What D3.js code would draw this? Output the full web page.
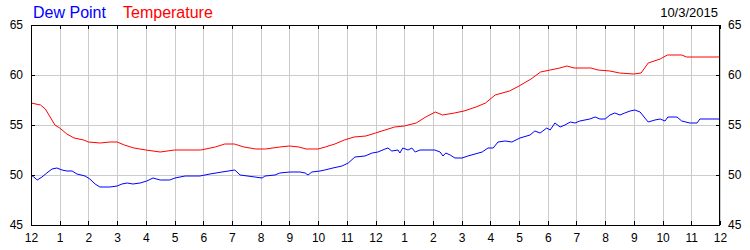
<!DOCTYPE html>
<html>
<head>
<meta charset="utf-8">
<script src="https://cdn.jsdelivr.net/npm/d3@7"></script>
<style>
  body { margin: 0; background: #fff; }
  text { font-family: "Liberation Sans", Arial, sans-serif; }
  .grid line { stroke: #cccccc; shape-rendering: crispEdges; }
  .grid path { display: none; }
  .tk path { display: none; }
  .tk line { stroke: #000; shape-rendering: crispEdges; }
  .tk text { font-size: 12px; fill: #000; }
</style>
</head>
<body>
<div class="g-chart"></div>
<script>
//Chart texts
var dewLabel = "Dew Point";
var tempLabel = "Temperature";
var dateText = "10/3/2015";

//Tick values
var hourTicks = [0, 60, 120, 180, 240, 300, 360, 420, 480, 540, 600, 660, 720,
                 780, 840, 900, 960, 1020, 1080, 1140, 1200, 1260, 1320, 1380, 1440];
var tempTicks = [45, 50, 55, 60, 65];

//Temperature readings (minutes after midnight, degrees)
var tempMinutes = [0, 20, 30, 40, 50, 60, 75, 90, 110, 120, 145, 165, 180, 195, 215, 240,
                   270, 300, 355, 385, 405, 425, 445, 470, 490, 520, 540, 560, 575, 600,
                   615, 635, 655, 675, 700, 720, 740, 760, 780, 805, 825, 845, 860, 885,
                   905, 930, 950, 970, 1000, 1020, 1045, 1065, 1085, 1105, 1120, 1135,
                   1170, 1185, 1210, 1230, 1260, 1275, 1290, 1315, 1330, 1360, 1370, 1440];
var tempValues = [57.2, 57.0, 56.6, 55.8, 55.0, 54.7, 54.1, 53.7, 53.5, 53.3, 53.2, 53.3, 53.3,
                  53.0, 52.7, 52.5, 52.3, 52.5, 52.5, 52.8, 53.1, 53.1, 52.8, 52.6, 52.6,
                  52.8, 52.9, 52.8, 52.6, 52.6, 52.8, 53.1, 53.5, 53.8, 53.9, 54.2, 54.5,
                  54.8, 54.9, 55.2, 55.8, 56.3, 56.0, 56.2, 56.4, 56.8, 57.2, 58.0, 58.4,
                  58.9, 59.6, 60.3, 60.5, 60.7, 60.9, 60.7, 60.7, 60.5, 60.4, 60.2, 60.1,
                  60.2, 61.2, 61.6, 62.0, 62.0, 61.8, 61.8];

//Dew point readings (minutes after midnight, degrees)
var dewMinutes = [0, 6, 13, 23, 33, 44, 54, 65, 75, 86, 96, 113, 123, 134, 144, 165, 180,
                  190, 201, 213, 228, 242, 255, 270, 290, 301, 322, 353, 374, 399, 426,
                  437, 468, 483, 489, 510, 520, 541, 562, 573, 579, 587, 604, 614, 631,
                  650, 663, 677, 698, 713, 725, 740, 746, 754, 767, 771, 777, 788, 796,
                  803, 813, 844, 855, 861, 867, 876, 886, 901, 913, 928, 943, 955, 966,
                  976, 991, 1005, 1022, 1043, 1053, 1064, 1078, 1085, 1095, 1106, 1116,
                  1127, 1137, 1147, 1168, 1179, 1189, 1200, 1210, 1220, 1231, 1241, 1252,
                  1262, 1273, 1283, 1290, 1304, 1315, 1325, 1331, 1350, 1360, 1377, 1392,
                  1398, 1440];
var dewValues = [50.0, 49.8, 49.5, 49.8, 50.2, 50.6, 50.7, 50.5, 50.4, 50.4, 50.1, 49.9,
                 49.6, 49.1, 48.8, 48.8, 48.9, 49.1, 49.2, 49.1, 49.2, 49.4, 49.7, 49.5,
                 49.5, 49.7, 49.9, 49.9, 50.1, 50.3, 50.5, 50.0, 49.8, 49.7, 49.9, 50.0,
                 50.2, 50.3, 50.3, 50.2, 50.0, 50.3, 50.4, 50.5, 50.7, 50.9, 51.2, 51.8,
                 51.9, 52.2, 52.3, 52.6, 52.7, 52.4, 52.5, 52.2, 52.7, 52.5, 52.7, 52.3,
                 52.5, 52.5, 52.3, 51.9, 52.2, 52.0, 51.7, 51.7, 51.9, 52.1, 52.3, 52.7,
                 52.7, 53.3, 53.4, 53.3, 53.7, 54.0, 54.4, 54.2, 54.7, 54.5, 55.2, 54.8,
                 55.0, 55.3, 55.2, 55.4, 55.6, 55.8, 55.6, 55.6, 56.0, 56.2, 56.0, 56.2,
                 56.4, 56.5, 56.3, 55.7, 55.3, 55.5, 55.6, 55.4, 55.8, 55.8, 55.4, 55.2,
                 55.2, 55.6, 55.6];

//Margin conventions
var margin = {top: 25, right: 30, bottom: 25, left: 31};
var width = 750 - margin.left - margin.right,
    height = 250 - margin.top - margin.bottom;

var svgRoot = d3.select(".g-chart").append("svg")
  .attr("width", 750)
  .attr("height", 250);

var svg = svgRoot.append("g")
  .attr("transform", "translate(" + margin.left + "," + margin.top + ")");

//Scales
var xScale = d3.scaleLinear().domain([0, 1440]).range([0, width]);
var yScale = d3.scaleLinear().domain([45, 65]).range([height, 0]);

function hourLabel(m) {
  var h = (m / 60) % 12;
  return h === 0 ? "12" : String(h);
}

//Gridlines
svg.append("g")
  .attr("class", "grid")
  .attr("transform", "translate(0," + height + ")")
  .call(d3.axisBottom(xScale).tickValues(hourTicks).tickSize(-height).tickFormat(""));

svg.append("g")
  .attr("class", "grid")
  .call(d3.axisLeft(yScale).tickValues(tempTicks).tickSize(-width).tickFormat(""));

//Series lines
var line = d3.line()
  .x(function(d) { return xScale(d[0]); })
  .y(function(d) { return yScale(d[1]); });

var tempData = tempMinutes.map(function(m, i) { return [m, tempValues[i]]; });
var dewData = dewMinutes.map(function(m, i) { return [m, dewValues[i]]; });

svg.append("path")
  .datum(tempData)
  .attr("fill", "none")
  .attr("stroke", "#ff0000")
  .attr("stroke-width", 1)
  .attr("d", line);

svg.append("path")
  .datum(dewData)
  .attr("fill", "none")
  .attr("stroke", "#0000ff")
  .attr("stroke-width", 1)
  .attr("d", line);

//Tick marks and labels
svg.append("g")
  .attr("class", "tk")
  .attr("transform", "translate(0," + height + ")")
  .call(d3.axisBottom(xScale).tickValues(hourTicks).tickSize(-4).tickPadding(8)
    .tickFormat(hourLabel));

svg.append("g")
  .attr("class", "tk")
  .call(d3.axisTop(xScale).tickValues(hourTicks).tickSize(-4).tickFormat(""));

svg.append("g")
  .attr("class", "tk")
  .call(d3.axisLeft(yScale).tickValues(tempTicks).tickSize(-4).tickPadding(8));

svg.append("g")
  .attr("class", "tk")
  .attr("transform", "translate(" + width + ",0)")
  .call(d3.axisRight(yScale).tickValues(tempTicks).tickSize(-4).tickPadding(8));

//Frame
svg.append("rect")
  .attr("x", 0.5)
  .attr("y", 0.5)
  .attr("width", width - 1)
  .attr("height", height)
  .attr("fill", "none")
  .attr("stroke", "#000")
  .attr("shape-rendering", "crispEdges");

//Title texts
svgRoot.append("text")
  .attr("x", 33).attr("y", 18)
  .style("font-size", "16px")
  .attr("fill", "#0000ff")
  .text(dewLabel);

svgRoot.append("text")
  .attr("x", 123).attr("y", 18)
  .style("font-size", "16px")
  .attr("fill", "#ff0000")
  .text(tempLabel);

svgRoot.append("text")
  .attr("x", 718).attr("y", 17)
  .attr("text-anchor", "end")
  .style("font-size", "13px")
  .attr("fill", "#000")
  .text(dateText);
</script>
</body>
</html>
